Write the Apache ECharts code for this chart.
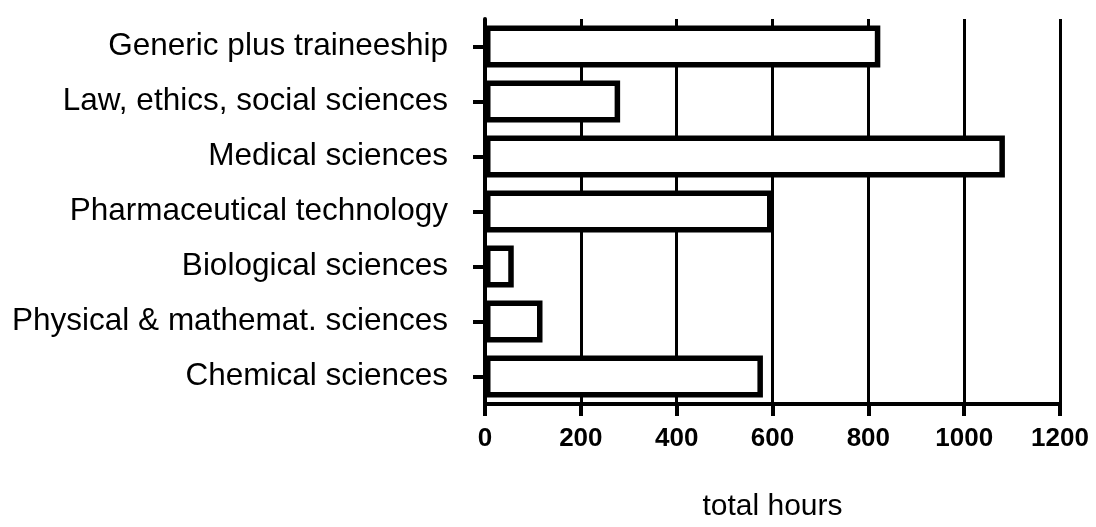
<!DOCTYPE html>
<html>
<head>
<meta charset="utf-8">
<script src="https://cdn.jsdelivr.net/npm/echarts@6/dist/echarts.min.js"></script>
<style>
  html, body { margin: 0; padding: 0; background: #fff; }
  #chart { width: 1096px; height: 527px; }
</style>
</head>
<body>
<div id="chart"></div>
<script>
// categories, top to bottom
const categories = [
  'Generic plus traineeship',
  'Law, ethics, social sciences',
  'Medical sciences',
  'Pharmaceutical technology',
  'Biological sciences',
  'Physical & mathemat. sciences',
  'Chemical sciences',
]
const hours = [825, 282, 1085, 600, 60, 120, 580]
const xTicks = { min: 0, max: 1200, interval: 200 }
const xName = 'total hours'

const chart = echarts.init(document.getElementById('chart'))

const option = {
  animation: false,
  backgroundColor: '#fff',
  textStyle: { fontFamily: 'Liberation Sans, Arial, sans-serif', color: '#000' },
  grid: {
    left: 485,
    right: 36,
    top: 19,
    bottom: 123,
  },
  xAxis: {
    type: 'value',
    min: xTicks.min,
    max: xTicks.max,
    interval: xTicks.interval,
    name: xName,
    nameLocation: 'middle',
    nameGap: 88,
    nameTextStyle: { fontSize: 30, color: '#000', fontFamily: 'Liberation Sans' },
    axisLine: { show: true, lineStyle: { color: '#000', width: 4 } },
    axisTick: { show: true, length: 12, lineStyle: { color: '#000', width: 4 } },
    axisLabel: {
      margin: 22,
      fontSize: 26,
      fontWeight: 'bold',
      color: '#000',
      fontFamily: 'Liberation Sans',
      formatter: v => String(v),
    },
    splitLine: { show: true, lineStyle: { color: '#000', width: 3 } },
  },
  yAxis: {
    type: 'category',
    inverse: true,
    data: categories,
    axisLine: { show: true, lineStyle: { color: '#000', width: 4 } },
    axisTick: { show: true, alignWithLabel: true, length: 12, lineStyle: { color: '#000', width: 4 } },
    axisLabel: {
      margin: 37,
      fontSize: 31.5,
      color: '#000',
      fontFamily: 'Liberation Sans',
    },
    splitLine: { show: false },
  },
  series: [
    {
      type: 'bar',
      data: hours,
      barWidth: 42,
      itemStyle: {
        color: '#fff',
        borderColor: '#000',
        borderWidth: 5.5,
      },
    },
  ],
}

chart.setOption(option)
</script>
</body>
</html>
